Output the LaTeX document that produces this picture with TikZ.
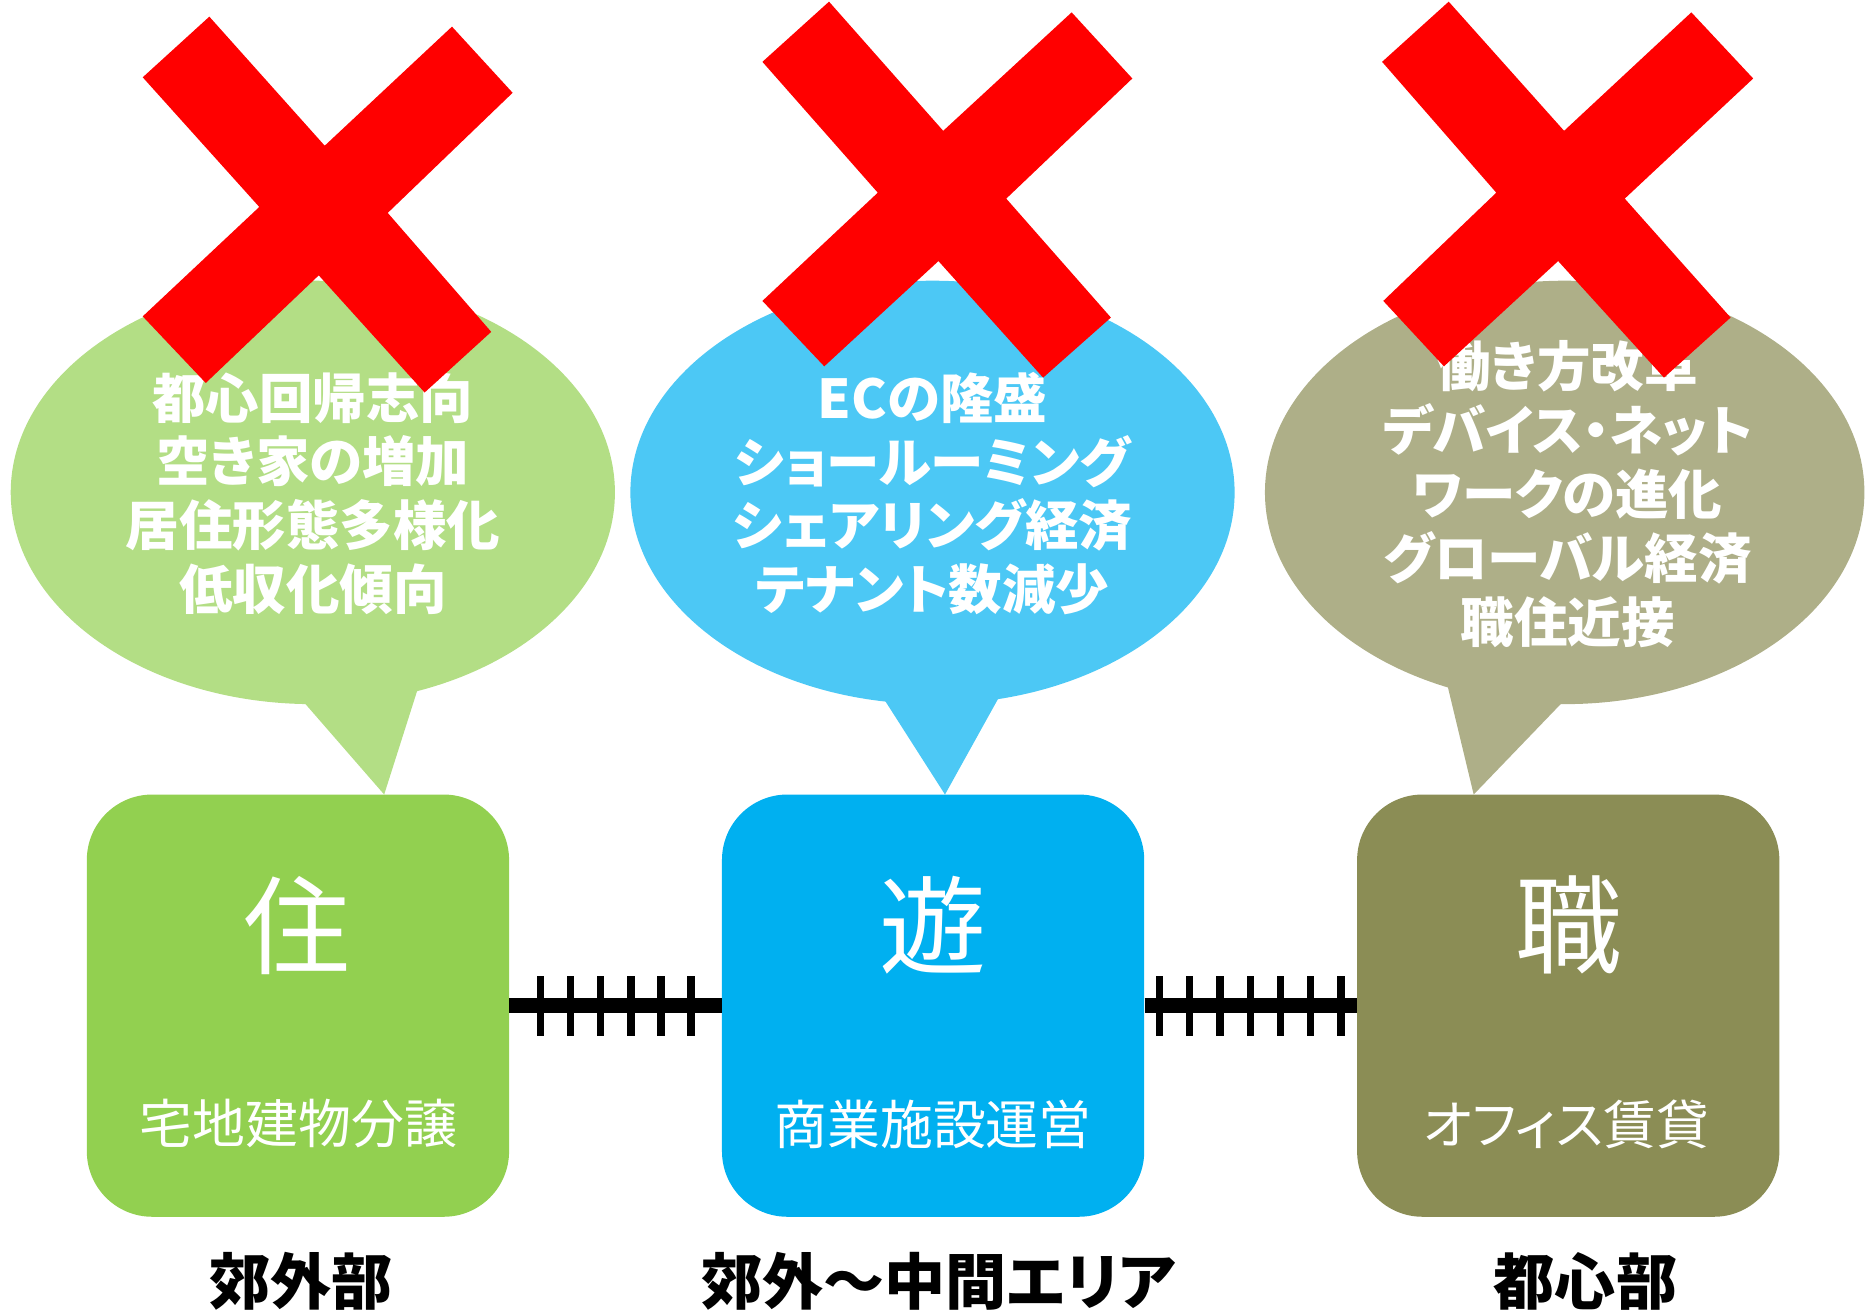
\documentclass[tikz,border=0pt]{standalone}
\usepackage{fontspec}
\setmainfont{Noto Sans CJK JP}[RawFeature=+palt]
\definecolor{gbox}{RGB}{146,208,80}
\definecolor{bbox}{RGB}{0,176,240}
\definecolor{obox}{RGB}{139,141,85}
\definecolor{xred}{RGB}{255,0,0}
\def\ux{0.025cm}
\tikzset{
  bubtext/.style={text=white, font=\bfseries\fontsize{32}{38.2}\selectfont, align=center, inner sep=0pt},
  boxshape/.style={rounded corners=55*\ux, minimum width=355*\ux, minimum height=355*\ux, inner sep=0pt},
  bigchar/.style={text=white, font=\fontsize{64}{70}\selectfont, inner sep=0pt},
  subtext/.style={text=white, font=\fontsize{31.6}{36}\selectfont, inner sep=0pt},
  areatext/.style={text=black, font=\bfseries\fontsize{36.5}{40}\selectfont, inner sep=0pt},
  rail/.style={line width=9pt},
  tie/.style={line width=4.4pt},
  crossmark/.style={fill=xred}
}
\begin{document}
\begin{tikzpicture}[x=0.025cm,y=-0.025cm]
\useasboundingbox (0,0) rectangle (1568,1102);

% speech bubbles
\fill[gbox!70!white] (263,414) ellipse [x radius=254*\ux, y radius=178*\ux];
\fill[gbox!70!white] (256,591) -- (351,580) -- (323,668) -- cycle;
\fill[bbox!70!white] (784,414) ellipse [x radius=254*\ux, y radius=178*\ux];
\fill[bbox!70!white] (744,589) -- (840,586) -- (794.5,668) -- cycle;
\fill[obox!70!white] (1315.5,414) ellipse [x radius=252*\ux, y radius=178*\ux];
\fill[obox!70!white] (1217,576.5) -- (1312.5,591.6) -- (1239,668) -- cycle;

\node[bubtext] (t1) at (263,415) {都心回帰志向\\空き家の増加\\居住形態多様化\\低収化傾向};
\node[bubtext] (t2) at (784,415) {ECの隆盛\\ショールーミング\\シェアリング経済\\テナント数減少};
\node[bubtext] (t3) at (1318,415.5) {働き方改革\\デバイス・ネット\\ワークの進化\\グローバル経済\\職住近接};

% red crosses
\fill[crossmark] (176,14) -- (273,122.5) -- (380,22.4) -- (431,78) -- (326,179) -- (413,279) -- (357,330) -- (268,231.5) -- (173,322) -- (120,266) -- (218,174) -- (120,65) -- cycle;
\fill[crossmark] (697,1.4) -- (793,110) -- (901,10.4) -- (952,66) -- (846,167) -- (934,267) -- (877,317.5) -- (789,219.5) -- (693,308) -- (641,253) -- (738,162) -- (641,52) -- cycle;
\fill[crossmark] (1218,1.4) -- (1315,110) -- (1422,10.4) -- (1474,66) -- (1366,167) -- (1455,267) -- (1399,317.5) -- (1310,219.5) -- (1214,308) -- (1163,253) -- (1258,162) -- (1162,52) -- cycle;

% boxes
\node[boxshape, fill=gbox] (b1) at (250.5,845.5) {};
\node[boxshape, fill=bbox] (b2) at (784.5,845.5) {};
\node[boxshape, fill=obox] (b3) at (1318.5,845.5) {};

\node[bigchar] (c1) at (250,778) {住};
\node[bigchar] (c2) at (784.5,778) {遊};
\node[bigchar] (c3) at (1319,778) {職};

\node[subtext] (s1) at (251,945) {宅地建物分譲};
\node[subtext] (s2) at (784.5,945) {商業施設運営};
\node[subtext] (s3) at (1317,945) {オフィス賃貸};

% rails
\draw[rail] (b1.east) -- (b2.west);
\draw[rail] (b2.east) -- (b3.west);
\foreach \k in {0,...,5} \draw[tie] (454.5+25.3*\k,820.6) -- (454.5+25.3*\k,871);
\foreach \k in {0,...,6} \draw[tie] (974.7+25.47*\k,820.6) -- (974.7+25.47*\k,871);

% area labels
\node[areatext] (a1) at (253,1077) {郊外部};
\node[areatext] (a2) at (789,1077) {郊外～中間エリア};
\node[areatext] (a3) at (1333,1077) {都心部};
\end{tikzpicture}
\end{document}
